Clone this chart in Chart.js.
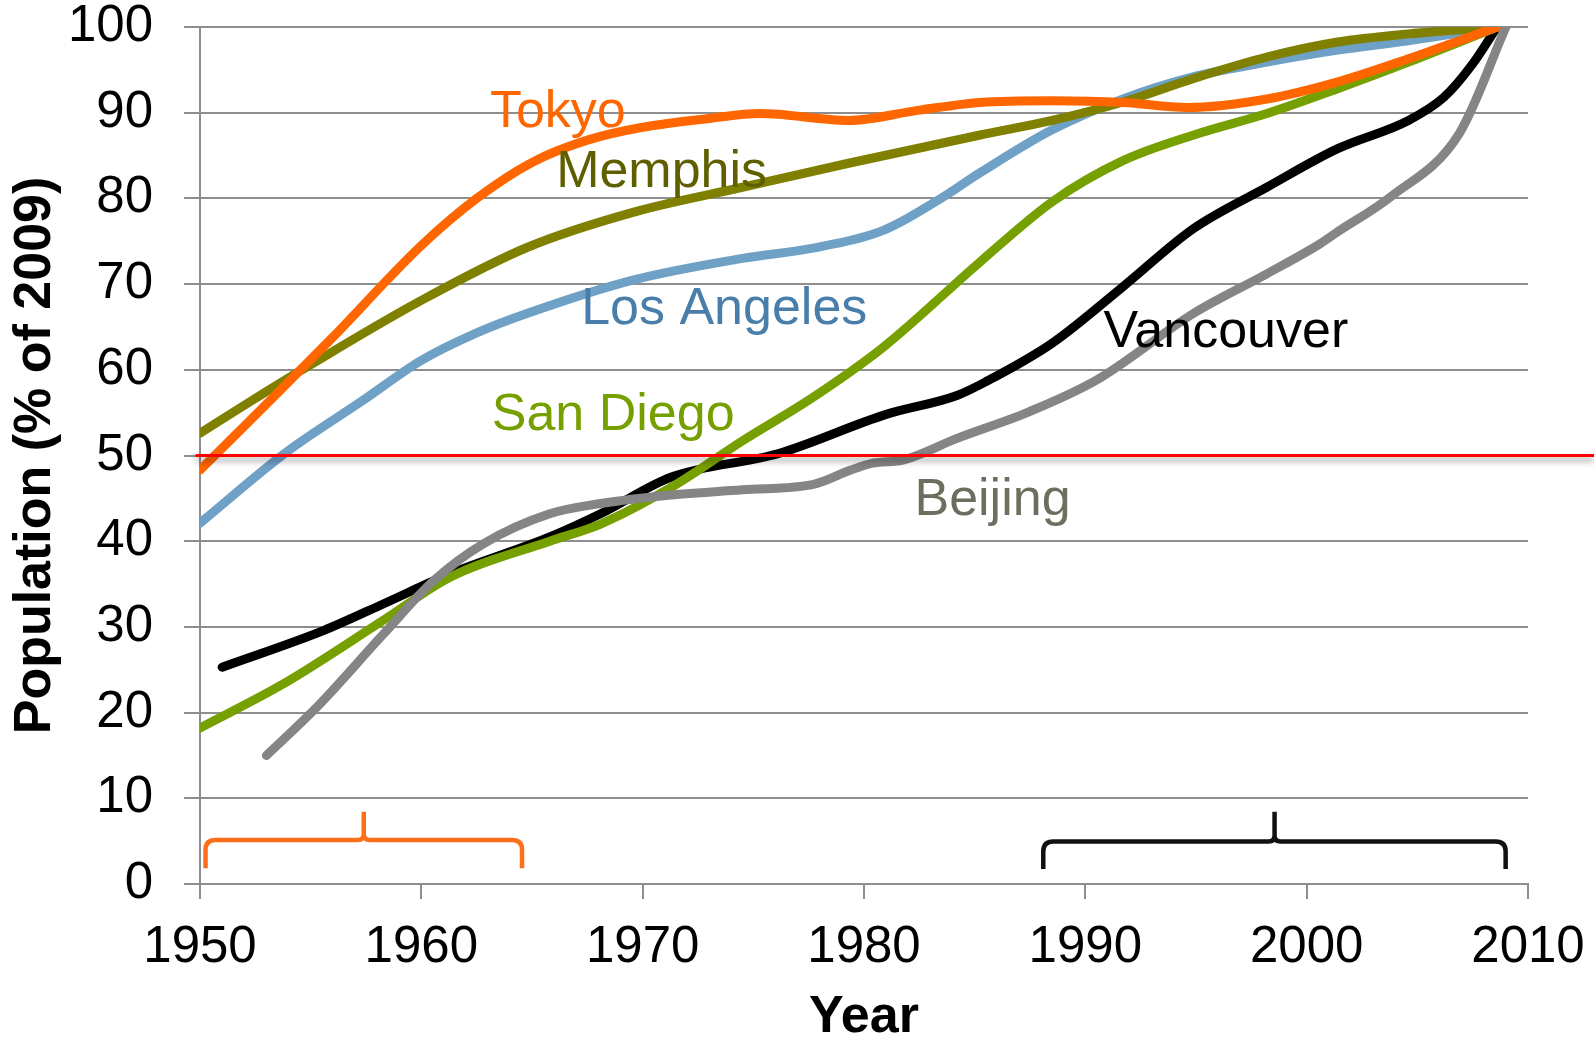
<!DOCTYPE html>
<html>
<head>
<meta charset="utf-8">
<script src="https://cdn.jsdelivr.net/npm/chart.js@4.4.1/dist/chart.umd.min.js"></script>
<style>
body{margin:0;background:#fff;}
canvas{display:block;}
</style>
</head>
<body>
<canvas id="popChart" width="1594" height="1038"></canvas>
<script>
// axis ticks
const xTickValues = [1950, 1960, 1970, 1980, 1990, 2000, 2010];
const yTickValues = [0, 10, 20, 30, 40, 50, 60, 70, 80, 90, 100];

// population as % of 2009
const tokyoYears  = [1950, 1953.2, 1956, 1960, 1962.5, 1965, 1967.5, 1970, 1972.9, 1975.3, 1979.3, 1982.5, 1985.25, 1988.5, 1991.7, 1994.6, 1998.2, 2001.4, 2004.6, 2008.6];
const tokyoValues = [48.3, 56.5, 63.8, 74.5, 80.0, 84.2, 86.8, 88.3, 89.3, 89.9, 89.1, 90.3, 91.2, 91.4, 91.2, 90.6, 91.6, 93.6, 96.3, 100];

const memphisYears  = [1950, 1952.4, 1955, 1960, 1964.8, 1969.6, 1974.5, 1979.3, 1985.25, 1988.5, 1991.7, 1994.9, 1998.2, 2001.4, 2004.6, 2008.6];
const memphisValues = [52.6, 56.5, 60.6, 68.1, 74.3, 78.4, 81.3, 84.1, 87.4, 89.1, 91.25, 94.0, 96.5, 98.25, 99.2, 100];

const laYears  = [1950, 1953.8, 1957.4, 1960, 1962.4, 1964.8, 1969.6, 1974.5, 1977.7, 1980.9, 1983.35, 1985.25, 1988.5, 1991.7, 1994.9, 1998.2, 2001.4, 2004.6, 2008.6];
const laValues = [42.1, 50.2, 56.5, 61.1, 64.2, 66.6, 70.5, 73.0, 74.2, 76.3, 79.8, 83.0, 88.0, 91.6, 94.2, 95.9, 97.3, 98.4, 100];

const sanDiegoYears  = [1950, 1953.8, 1958.3, 1961.3, 1965.8, 1968.1, 1971.3, 1974.5, 1977.7, 1980.9, 1985.25, 1988.5, 1991.7, 1994.9, 1998.2, 2001.4, 2004.6, 2008.6];
const sanDiegoValues = [18.2, 23.4, 30.8, 35.8, 40.0, 42.0, 46.3, 51.7, 56.8, 62.7, 72.6, 79.6, 84.4, 87.4, 89.9, 92.8, 95.9, 100];

const vancouverYears  = [1951, 1955.6, 1958.3, 1961.3, 1965.8, 1968.1, 1971.3, 1976.1, 1981, 1984.2, 1985.5, 1988.5, 1991.7, 1994.9, 1998.2, 2001.4, 2004.6, 2006.2, 2007.5, 2008.6];
const vancouverValues = [25.3, 29.6, 32.7, 36.2, 40.5, 43.2, 47.5, 50.2, 54.8, 57.0, 58.6, 63.1, 69.7, 76.5, 81.3, 85.8, 89.1, 91.8, 95.7, 100];

const beijingYears  = [1953, 1955.3, 1958.3, 1960.6, 1962.8, 1965.8, 1968.1, 1971.3, 1974.5, 1977.8, 1979.4, 1980.4, 1981.8, 1984.2, 1987.45, 1990.5, 1994.9, 1998.2, 2000.6, 2001.4, 2003.8, 2006.9, 2009];
const beijingValues = [15.0, 20.7, 29.2, 35.5, 39.7, 43.2, 44.4, 45.4, 46.0, 46.7, 48.3, 49.1, 49.5, 52.0, 55.1, 58.8, 66.6, 71.2, 74.7, 76.1, 80.2, 87.6, 100];

const halfLine = 50;

function points(years, values) {
    return years.map((yr, i) => ({x: yr, y: values[i]}));
}

function series(label, years, values, color) {
    return {
        label: label,
        data: points(years, values),
        borderColor: color,
        borderWidth: 9,
        borderCapStyle: 'round',
        pointRadius: 0,
        cubicInterpolationMode: 'monotone',
        fill: false
    };
}

// name tags placed next to the lines (in data units)
const tags = [
    {text: 'Tokyo',       x: 1963.1,  y: 88.33, color: '#ff6600'},
    {text: 'Memphis',     x: 1966.09, y: 81.34, color: '#5f5f00'},
    {text: 'Los Angeles', x: 1967.22, y: 65.4,  color: '#4a7eaa'},
    {text: 'San Diego',   x: 1963.18, y: 52.96, color: '#76a000'},
    {text: 'Vancouver',   x: 1990.82, y: 62.67, color: '#000000'},
    {text: 'Beijing',     x: 1982.28, y: 43.04, color: '#6e6e5e'}
];

const brackets = [
    {from: 1950.25, to: 1964.55, mid: 1957.4, foot: 1.85, bar: 5.13, tip: 8.43, color: '#ff6f1a'},
    {from: 1988.1,  to: 2008.99, mid: 1998.55, foot: 1.75, bar: 4.97, tip: 8.43, color: '#111111'}
];

const FONT = '"Liberation Sans", Arial, sans-serif';

function drawBracket(ctx, x, y, b) {
    const x1 = x.getPixelForValue(b.from);
    const x2 = x.getPixelForValue(b.to);
    const xm = x.getPixelForValue(b.mid);
    const yFoot = y.getPixelForValue(b.foot);
    const yBar = y.getPixelForValue(b.bar);
    const yTip = y.getPixelForValue(b.tip);
    const r = 10, s = 6;

    ctx.strokeStyle = b.color;
    ctx.lineWidth = 4.5;
    ctx.beginPath();
    ctx.moveTo(x1, yFoot);
    ctx.lineTo(x1, yBar + r);
    ctx.quadraticCurveTo(x1, yBar, x1 + r, yBar);
    ctx.lineTo(xm - s, yBar);
    ctx.quadraticCurveTo(xm, yBar, xm, yBar - s);
    ctx.lineTo(xm, yTip);
    ctx.moveTo(xm, yBar - s);
    ctx.quadraticCurveTo(xm, yBar, xm + s, yBar);
    ctx.lineTo(x2 - r, yBar);
    ctx.quadraticCurveTo(x2, yBar, x2, yBar + r);
    ctx.lineTo(x2, yFoot);
    ctx.stroke();
}

const overlays = {
    id: 'overlays',
    afterDatasetsDraw(chart) {
        const ctx = chart.ctx;
        const x = chart.scales.x;
        const y = chart.scales.y;

        ctx.save();

        // 50% line with its soft shadow, runs past the plot to the edge
        ctx.shadowColor = 'rgba(0,0,0,0.45)';
        ctx.shadowBlur = 6;
        ctx.shadowOffsetY = 4;
        ctx.strokeStyle = '#ff0000';
        ctx.lineWidth = 3;
        const py = y.getPixelForValue(halfLine);
        ctx.beginPath();
        ctx.moveTo(x.getPixelForValue(1949.8), py);
        ctx.lineTo(chart.width, py);
        ctx.stroke();
        ctx.shadowColor = 'transparent';
        ctx.shadowBlur = 0;
        ctx.shadowOffsetY = 0;

        ctx.font = '52px ' + FONT;
        ctx.textAlign = 'left';
        ctx.textBaseline = 'alphabetic';
        tags.forEach(t => {
            ctx.fillStyle = t.color;
            ctx.fillText(t.text, x.getPixelForValue(t.x), y.getPixelForValue(t.y));
        });

        brackets.forEach(b => drawBracket(ctx, x, y, b));

        ctx.restore();
    }
};

const ctx = document.getElementById('popChart');

new Chart(ctx, {
    type: 'line',

    data: {
        datasets: [
            series('Beijing', beijingYears, beijingValues, '#858585'),
            series('Tokyo', tokyoYears, tokyoValues, '#ff6600'),
            series('Memphis', memphisYears, memphisValues, '#808000'),
            series('Los Angeles', laYears, laValues, '#6fa0c6'),
            series('San Diego', sanDiegoYears, sanDiegoValues, '#769f00'),
            series('Vancouver', vancouverYears, vancouverValues, '#000000')
        ]
    },

    options: {
        responsive: false,
        animation: false,
        devicePixelRatio: 1,

        layout: {
            padding: {top: 27, right: 66, bottom: 0, left: 0}
        },

        plugins: {
            legend: {display: false},
            tooltip: {enabled: false}
        },

        scales: {
            x: {
                type: 'linear',
                min: 1950,
                max: 2010,
                afterBuildTicks: s => { s.ticks = xTickValues.map(v => ({value: v})); },
                afterFit: s => {
                    s.height = 154;
                    s.paddingLeft = 0;
                    s.paddingRight = 0;
                },
                ticks: {
                    color: '#000',
                    font: {family: FONT, size: 51},
                    padding: 18,
                    maxRotation: 0,
                    callback: v => String(v)
                },
                grid: {
                    drawOnChartArea: false,
                    drawTicks: true,
                    tickLength: 15,
                    color: '#8e8e8e',
                    lineWidth: 2
                },
                border: {display: true, color: '#8e8e8e', width: 2},
                title: {
                    display: true,
                    text: 'Year',
                    color: '#000',
                    font: {family: FONT, size: 52, weight: 'bold', lineHeight: 0.8},
                    padding: 0
                }
            },

            y: {
                min: 0,
                max: 100,
                afterBuildTicks: s => { s.ticks = yTickValues.map(v => ({value: v})); },
                afterFit: s => {
                    s.width = 200;
                    s.paddingTop = 0;
                    s.paddingBottom = 0;
                },
                ticks: {
                    color: '#000',
                    font: {family: FONT, size: 51, lineHeight: 1},
                    padding: 31,
                    callback: v => String(v)
                },
                grid: {
                    drawTicks: true,
                    tickLength: 16,
                    color: '#8e8e8e',
                    lineWidth: 2
                },
                border: {display: true, color: '#8e8e8e', width: 2},
                title: {
                    display: true,
                    text: 'Population (% of 2009)',
                    color: '#000',
                    font: {family: FONT, size: 52, weight: 'bold', lineHeight: 1.385},
                    padding: 0
                }
            }
        }
    },

    plugins: [overlays]
});
</script>
</body>
</html>
